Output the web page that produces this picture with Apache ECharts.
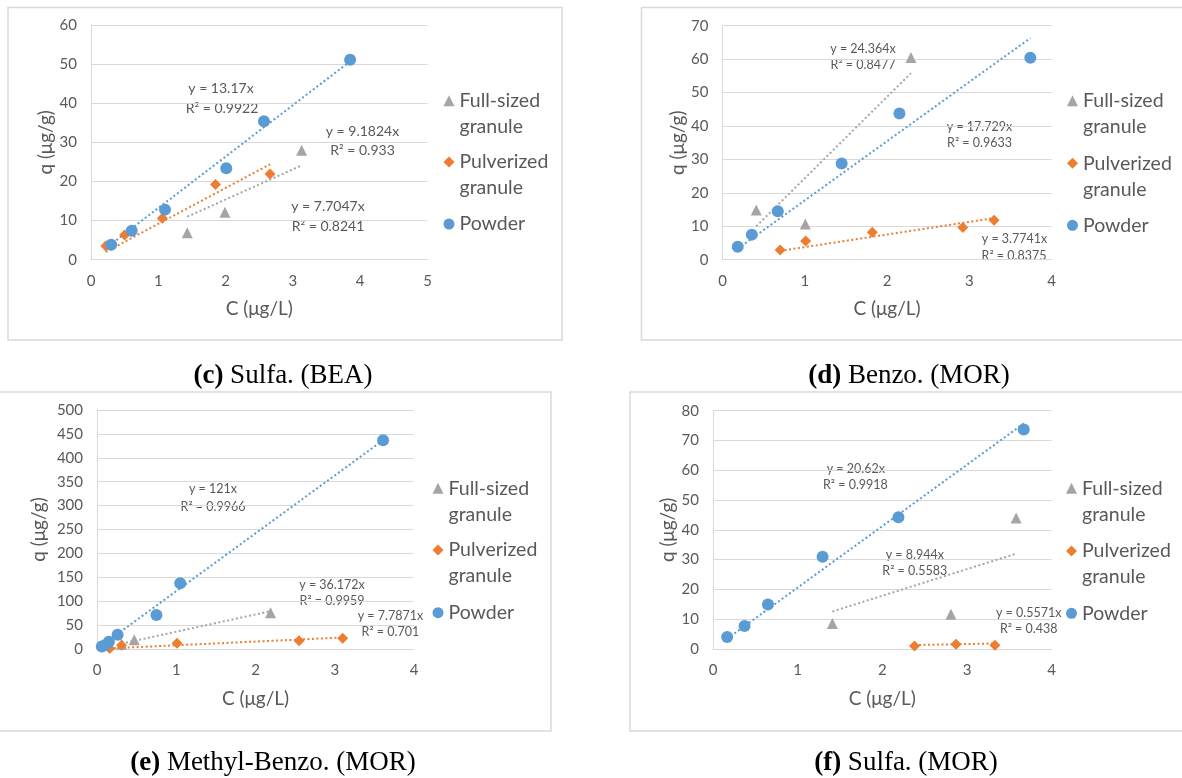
<!DOCTYPE html>
<html><head><meta charset="utf-8">
<script src="https://cdn.jsdelivr.net/npm/echarts@6/dist/echarts.min.js"></script>
<style>html,body{margin:0;padding:0;background:#fff}#chart{width:1182px;height:778px}</style>
</head><body><div id="chart"></div>
<script>
// ---------- names / labels ----------
const seriesNames = ['Full-sized granule', 'Pulverized granule', 'Powder'];
const legendLabels = ['\nFull-sized\ngranule', '\nPulverized\ngranule', 'Powder'];
const xTitle = 'C (μg/L)';
const yTitle = 'q (μg/g)';
const captions = ['(c)| Sulfa. (BEA)', '(d)| Benzo. (MOR)', '(e)| Methyl-Benzo. (MOR)', '(f)| Sulfa. (MOR)'];

// ---------- panel (c) Sulfa. (BEA) ----------
const cFull = [[1.43, 6.9], [1.99, 12.1], [3.13, 28.0]];
const cPulv = [[0.22, 3.5], [0.50, 6.3], [1.06, 10.6], [1.85, 19.2], [2.66, 21.9]];
const cPowder = [[0.30, 3.8], [0.605, 7.4], [1.10, 12.8], [2.01, 23.4], [2.57, 35.4], [3.85, 51.1]];
const cFullTrend = [[1.43, 11.0], [3.13, 24.1]];
const cPulvTrend = [[0.22, 2.0], [2.66, 24.4]];
const cPowderTrend = [[0.27, 3.6], [3.85, 50.7]];
const cEq = ['y = 7.7047x', 'R² = 0.8241', 'y = 9.1824x', 'R² = 0.933', 'y = 13.17x', 'R² = 0.9922'];

// ---------- panel (d) Benzo. (MOR) ----------
const dFull = [[0.41, 14.9], [1.006, 10.7], [2.29, 60.5]];
const dPulv = [[0.70, 2.9], [1.01, 5.6], [1.82, 8.2], [2.92, 9.6], [3.30, 11.8]];
const dPowder = [[0.185, 3.9], [0.356, 7.5], [0.672, 14.5], [1.448, 28.8], [2.15, 43.7], [3.74, 60.4]];
const dFullTrend = [[0.41, 10.0], [2.29, 55.8]];
const dPulvTrend = [[0.70, 2.64], [3.30, 12.45]];
const dPowderTrend = [[0.185, 3.3], [3.74, 66.3]];
const dEq = ['y = 24.364x', 'R² = 0.8477', 'y = 3.7741x', 'R² = 0.8375', 'y = 17.729x', 'R² = 0.9633'];

// ---------- panel (e) Methyl-Benzo. (MOR) ----------
const eFull = [[0.31, 10], [0.47, 19.5], [2.19, 76]];
const ePulv = [[0.16, 1], [0.31, 8], [1.01, 12], [2.55, 17], [3.10, 22.5]];
const ePowder = [[0.06, 5], [0.10, 8], [0.15, 15], [0.26, 30], [0.75, 71], [1.05, 137.5], [3.61, 436.5]];
const eFullTrend = [[0.31, 11.2], [2.19, 79.2]];
const ePulvTrend = [[0.16, 1.25], [3.10, 24.1]];
const ePowderTrend = [[0.06, 7.3], [3.61, 436.8]];
const eEq = ['y = 36.172x', 'R² = 0.9959', 'y = 7.7871x', 'R² = 0.701', 'y = 121x', 'R² = 0.9966'];

// ---------- panel (f) Sulfa. (MOR) ----------
const fFull = [[1.41, 8.6], [2.81, 11.7], [3.58, 44.0]];
const fPulv = [[2.38, 1.0], [2.87, 1.6], [3.33, 1.3]];
const fPowder = [[0.167, 4.0], [0.373, 7.7], [0.649, 14.9], [1.294, 31.0], [2.19, 44.2], [3.67, 73.7]];
const fFullTrend = [[1.41, 12.6], [3.58, 32.0]];
const fPulvTrend = [[2.38, 1.33], [3.33, 1.86]];
const fPowderTrend = [[0.167, 3.44], [3.67, 75.7]];
const fEq = ['y = 8.944x', 'R² = 0.5583', 'y = 0.5571x', 'R² = 0.438', 'y = 20.62x', 'R² = 0.9918'];

// ---------- axis ranges ----------
const xMax = [5, 4, 4, 4];
const yMax = [60, 70, 500, 80];
const yStep = [10, 10, 50, 10];

// ---------- layout (pixels) ----------
const FONT = 'Lato';
const TXT = '#595959';
const colors = ['#A5A5A5', '#ED7D31', '#5B9BD5'];
const symbols = ['triangle', 'diamond', 'circle'];
const symSizes = [11, 11, 12];

const grids = [
  {left: 91, top: 25, width: 336.5, height: 234.7},
  {left: 722.5, top: 25.7, width: 329.2, height: 234},
  {left: 97, top: 410, width: 317, height: 239},
  {left: 713, top: 410.7, width: 338.7, height: 238.3}
];
const yNameGap = [33, 34, 49, 34];
const legendLeft = [443.5, 1067, 432.5, 1066];
const legendIconY = [[100.7, 162, 224], [100.7, 163.3, 225.3], [488.3, 550, 612.7], [488.3, 551, 613.3]];
const legendTopOffset = [39, 39, 13];
const boxes = [[8, 7.5, 554, 332.5], [641.5, 7.5, 600, 332.5], [-5, 392, 556, 339], [630, 392, 600, 339]];
const captionPos = [[283, 376], [909, 376], [273, 763], [906, 763]];
// annotation centres: [x, y] for each text of eq arrays
const eqPos = [
  [[328, 206.7], [328, 226.7], [362.5, 131], [362.5, 150.7], [221, 88], [222, 108]],
  [[863, 48.7], [863, 65], [1014.5, 239.3], [1014, 256], [979.5, 127], [979.5, 143.3]],
  [[332, 584.7], [332, 601.3], [390.4, 615.7], [390.4, 632.3], [213, 489.3], [213, 506.7]],
  [[914.8, 554.7], [914.8, 571], [1028.7, 612.7], [1028.7, 629.3], [855.8, 469], [855.4, 485]]
];
const eqFont = [14, 12.5, 12.5, 12.5];

const panelPts = [[cFull, cPulv, cPowder], [dFull, dPulv, dPowder], [eFull, ePulv, ePowder], [fFull, fPulv, fPowder]];
const panelTrends = [[cFullTrend, cPulvTrend, cPowderTrend], [dFullTrend, dPulvTrend, dPowderTrend],
  [eFullTrend, ePulvTrend, ePowderTrend], [fFullTrend, fPulvTrend, fPowderTrend]];
const panelEq = [cEq, dEq, eEq, fEq];

const xAxes = [], yAxes = [], series = [], legends = [], graphics = [];
for (let i = 0; i < 4; i++) {
  xAxes.push({
    type: 'value', gridIndex: i, min: 0, max: xMax[i], interval: 1,
    axisLine: {show: true, lineStyle: {color: '#D9D9D9', width: 1}},
    axisTick: {show: false}, splitLine: {show: false},
    axisLabel: {color: TXT, fontSize: 15, fontFamily: FONT, margin: 14},
    name: xTitle, nameLocation: 'middle', nameGap: 40,
    nameTextStyle: {color: TXT, fontSize: 19, fontFamily: FONT}
  });
  yAxes.push({
    type: 'value', gridIndex: i, min: 0, max: yMax[i], interval: yStep[i],
    axisLine: {show: true, lineStyle: {color: '#D9D9D9', width: 1}},
    axisTick: {show: false},
    splitLine: {show: true, lineStyle: {color: '#D9D9D9', width: 1}},
    axisLabel: {color: TXT, fontSize: 15, fontFamily: FONT, margin: 14},
    name: yTitle, nameLocation: 'middle', nameGap: yNameGap[i], nameRotate: 90,
    nameTextStyle: {color: TXT, fontSize: 19, fontFamily: FONT}
  });
  for (let s = 0; s < 3; s++) {
    series.push({
      name: seriesNames[s] + ' trend', type: 'line', xAxisIndex: i, yAxisIndex: i,
      data: panelTrends[i][s], symbol: 'none', showSymbol: false, silent: true, z: 2,
      lineStyle: {color: colors[s], width: 2, type: [2, 2.5]}
    });
  }
  for (let s = 0; s < 3; s++) {
    series.push({
      name: seriesNames[s], type: 'scatter', xAxisIndex: i, yAxisIndex: i,
      data: panelPts[i][s], symbol: symbols[s], symbolSize: symSizes[s], z: 3,
      itemStyle: {color: colors[s], opacity: 1}
    });
    // one legend component per entry so each icon sits on the entry's first line
    legends.push({
      orient: 'vertical', left: legendLeft[i], top: legendIconY[i][s] - legendTopOffset[s], padding: 0,
      itemWidth: 11, itemHeight: 11, selectedMode: false,
      data: [seriesNames[s]],
      formatter: function (n) { return legendLabels[seriesNames.indexOf(n)]; },
      textStyle: {color: TXT, fontSize: 19.5, fontFamily: FONT, lineHeight: 26}
    });
  }
  graphics.push({
    type: 'rect', shape: {x: boxes[i][0], y: boxes[i][1], width: boxes[i][2], height: boxes[i][3]},
    style: {fill: null, stroke: '#D9D9D9', lineWidth: 1.5}, z: -1, silent: true
  });
  const cap = captions[i].split('|');
  graphics.push({
    type: 'text', x: captionPos[i][0], y: captionPos[i][1], silent: true,
    style: {
      text: '{b|' + cap[0] + '}' + cap[1],
      align: 'center', verticalAlign: 'middle',
      font: '27px "Liberation Serif"', fill: '#000',
      rich: {b: {fontWeight: 'bold', fontSize: 27, fontFamily: 'Liberation Serif', fill: '#000'}}
    }
  });
  panelEq[i].forEach(function (t, k) {
    graphics.push({
      type: 'text', x: eqPos[i][k][0], y: eqPos[i][k][1], silent: true,
      style: {text: t, align: 'center', verticalAlign: 'middle', fill: TXT,
        font: eqFont[i] + 'px ' + FONT}
    });
  });
}

const chart = echarts.init(document.getElementById('chart'), null, {renderer: 'canvas'});
chart.setOption({
  animation: false,
  backgroundColor: '#fff',
  grid: grids,
  xAxis: xAxes,
  yAxis: yAxes,
  legend: legends,
  series: series,
  graphic: graphics
});
</script>
</body></html>
